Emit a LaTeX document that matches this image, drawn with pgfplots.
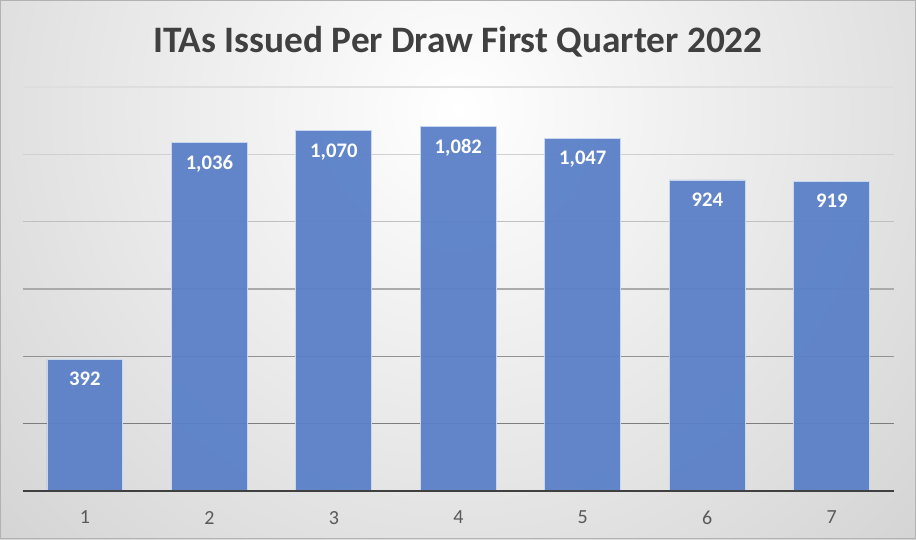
\documentclass[border=0pt]{standalone}
\usepackage{pgfplots}
\pgfplotsset{compat=1.18}
\usepackage{fontspec}
\setmainfont{Carlito}
\definecolor{barblue}{RGB}{91,128,200}
\definecolor{titlegray}{RGB}{64,64,64}
\definecolor{tickgray}{RGB}{89,89,89}
\begin{document}
\begin{tikzpicture}
\begin{scope}
\clip (0,0) rectangle (687pt,404.25pt);
\shade[inner color=white, outer color=gray!34] (343.5pt,322pt) circle (480pt);
\end{scope}
\draw[gray!60, line width=0.8pt] (0.4pt,0.4pt) rectangle (686.6pt,403.85pt);
\node[font=\bfseries\fontsize{28}{32}\selectfont, text=titlegray] at (343.5pt,372.75pt) {ITAs Issued Per Draw First Quarter 2022};
\begin{axis}[
  at={(17pt,36pt)}, anchor=south west,
  scale only axis, width=653.5pt, height=303pt,
  xmin=-0.5, xmax=6.5, ymin=0, ymax=1200,
  xtick={0,...,6}, xticklabels={1,2,3,4,5,6,7},
  ytick=\empty,
  axis line style={draw=none},
  major tick length=0pt,
  xticklabel style={font=\fontsize{15}{17}\selectfont, text=tickgray, yshift=-11.5pt},
  /pgf/number format/assume math mode=true,
  bar width=0.61,
  nodes near coords,
  every node near coord/.append style={font=\bfseries\fontsize{15.5}{18}\selectfont, text=white, anchor=north, yshift=-6pt, /pgf/number format/1000 sep={,}},
  clip=false,
]
\draw[color={rgb,255:red,222;green,222;blue,222}, line width=1pt] (axis cs:-0.5,1200) -- (axis cs:6.5,1200);
\draw[color={rgb,255:red,208;green,208;blue,208}, line width=1pt] (axis cs:-0.5,1000) -- (axis cs:6.5,1000);
\draw[color={rgb,255:red,192;green,192;blue,192}, line width=1pt] (axis cs:-0.5,800) -- (axis cs:6.5,800);
\draw[color={rgb,255:red,170;green,170;blue,170}, line width=1pt] (axis cs:-0.5,600) -- (axis cs:6.5,600);
\draw[color={rgb,255:red,146;green,146;blue,146}, line width=1pt] (axis cs:-0.5,400) -- (axis cs:6.5,400);
\draw[color={rgb,255:red,125;green,125;blue,125}, line width=1pt] (axis cs:-0.5,200) -- (axis cs:6.5,200);
\addplot[ybar, fill=barblue, fill opacity=0.95, draw={rgb,255:red,200;green,215;blue,240}, line width=0.6pt, text opacity=1]
  coordinates {(0,392) (1,1036) (2,1070) (3,1082) (4,1047) (5,924) (6,919)};
\draw[color=titlegray, line width=1.6pt] (axis cs:-0.5,0) -- (axis cs:6.5,0);
\end{axis}
\end{tikzpicture}
\end{document}
